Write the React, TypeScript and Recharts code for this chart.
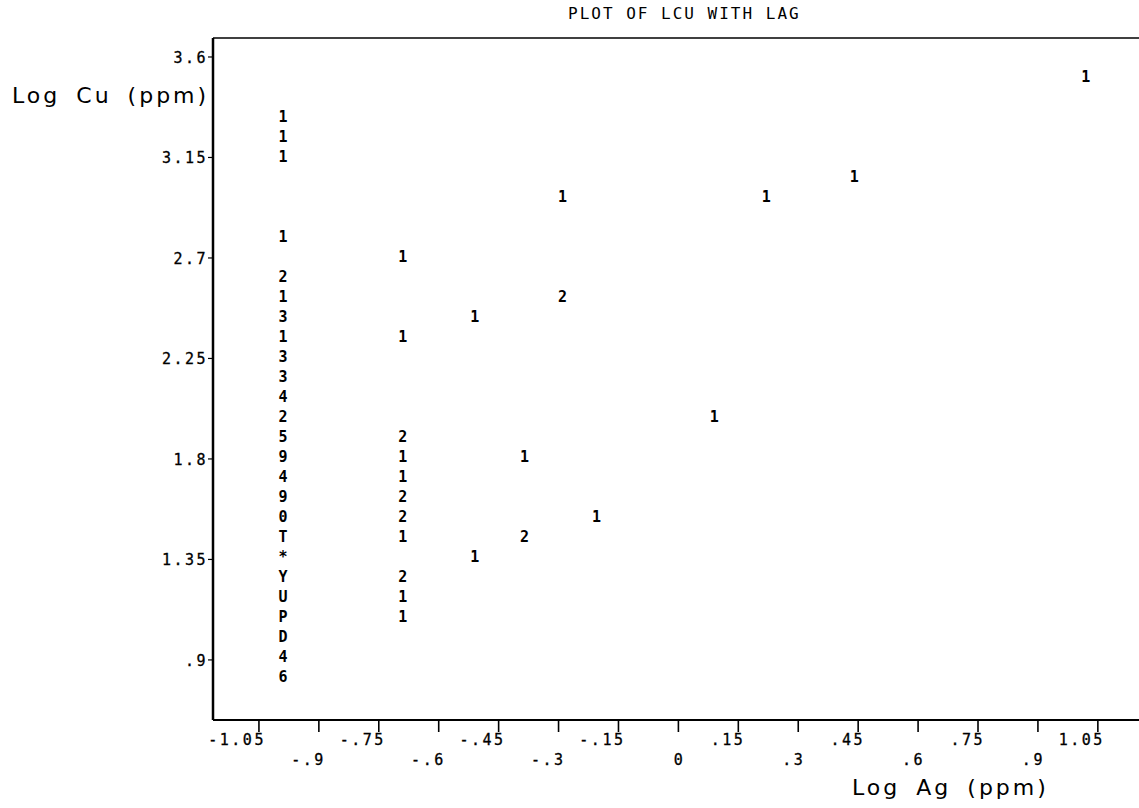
import { Scatter, ScatterChart, XAxis, YAxis } from 'recharts'

// printer-plot columns (Log Ag) and rows (Log Cu)
const pointX = [
  -0.99, -0.99, -0.99, -0.99, -0.99, -0.99, -0.99, -0.99, -0.99, -0.99, -0.99, -0.99, -0.99,
  -0.99, -0.99, -0.99, -0.99, -0.99, -0.99, -0.99, -0.99, -0.99, -0.99, -0.99, -0.99,
  -0.69, -0.69, -0.69, -0.69, -0.69, -0.69, -0.69, -0.69, -0.69, -0.69, -0.69,
  -0.51, -0.51, -0.385, -0.385, -0.29, -0.29, -0.205, 0.09, 0.22, 0.44, 1.02,
]
const pointY = [
  3.331, 3.242, 3.152, 2.794, 2.615, 2.525, 2.436, 2.346, 2.257, 2.167, 2.077, 1.988, 1.898,
  1.809, 1.719, 1.63, 1.54, 1.45, 1.361, 1.271, 1.182, 1.092, 1.003, 0.913, 0.823,
  2.704, 2.346, 1.898, 1.809, 1.719, 1.63, 1.54, 1.45, 1.271, 1.182, 1.092,
  2.436, 1.361, 1.809, 1.45, 2.973, 2.525, 1.54, 1.988, 2.973, 3.063, 3.51,
]
const pointMark = [
  '1', '1', '1', '1', '2', '1', '3', '1', '3', '3', '4', '2', '5',
  '9', '4', '9', '0', 'T', '*', 'Y', 'U', 'P', 'D', '4', '6',
  '1', '1', '2', '1', '1', '2', '2', '1', '2', '1', '1',
  '1', '1', '1', '2', '1', '2', '1', '1', '1', '1', '1',
]

const xTicks = [-1.05, -0.9, -0.75, -0.6, -0.45, -0.3, -0.15, 0, 0.15, 0.3, 0.45, 0.6, 0.75, 0.9, 1.05]
const xTickLabels = ['-1.05', '-.9', '-.75', '-.6', '-.45', '-.3', '-.15', '0', '.15', '.3', '.45', '.6', '.75', '.9', '1.05']
const yTicks = [0.9, 1.35, 1.8, 2.25, 2.7, 3.15, 3.6]
const yTickLabels = ['.9', '1.35', '1.8', '2.25', '2.7', '3.15', '3.6']

const rows = pointX.map((x, i) => ({ x, y: pointY[i], mark: pointMark[i] }))

const MONO = '"DejaVu Sans Mono", "Liberation Mono", monospace'
const SANS = '"DejaVu Sans", Verdana, sans-serif'
const INK = '#000'

function BottomTick(props: any) {
  const { x, y, index } = props
  const upper = index % 2 === 0
  return (
    <g>
      <line x1={x} y1={y} x2={x} y2={y + 12} stroke={INK} strokeWidth={1.6} />
      <text
        x={x + 7}
        y={upper ? y + 25 : y + 45}
        textAnchor="end"
        fontFamily={MONO}
        fontSize={15}
        letterSpacing={2.5}
        fill={INK}
        stroke={INK}
        strokeWidth={0.3}
      >
        {xTickLabels[index]}
      </text>
    </g>
  )
}

function TopTick(props: any) {
  const { x, y } = props
  return <line x1={x} y1={y} x2={x} y2={y - 8} stroke={INK} strokeWidth={1.5} />
}

function LeftTick(props: any) {
  const { x, y, index } = props
  return (
    <g>
      <line x1={x - 5} y1={y} x2={x} y2={y} stroke={INK} strokeWidth={1.2} />
      <text
        x={x - 5}
        y={y + 6}
        textAnchor="end"
        fontFamily={MONO}
        fontSize={15}
        letterSpacing={2.5}
        fill={INK}
        stroke={INK}
        strokeWidth={0.3}
      >
        {yTickLabels[index]}
      </text>
    </g>
  )
}

function MarkGlyph(props: any) {
  const { cx, cy, payload } = props
  return (
    <text
      x={cx}
      y={cy}
      textAnchor="middle"
      dominantBaseline="central"
      fontFamily={MONO}
      fontWeight="bold"
      fontSize={15}
      fill={INK}
    >
      {payload.mark}
    </text>
  )
}

export default function App() {
  return (
    <div style={{ position: 'absolute', left: 0, top: 0, width: 1139, height: 808, background: '#fff' }}>
      <div
        style={{
          position: 'absolute',
          left: 568,
          top: 4,
          fontFamily: MONO,
          fontSize: 16,
          letterSpacing: 2,
          color: INK,
          whiteSpace: 'nowrap',
        }}
      >
        PLOT OF LCU WITH LAG
      </div>
      <div
        style={{
          position: 'absolute',
          left: 12,
          top: 83,
          fontFamily: SANS,
          fontSize: 22,
          letterSpacing: 3,
          wordSpacing: 6,
          color: INK,
          whiteSpace: 'nowrap',
        }}
      >
        Log Cu (ppm)
      </div>
      <div
        style={{
          position: 'absolute',
          left: 852,
          top: 775,
          fontFamily: SANS,
          fontSize: 22,
          letterSpacing: 3,
          wordSpacing: 6,
          color: INK,
          whiteSpace: 'nowrap',
        }}
      >
        Log Ag (ppm)
      </div>
      <ScatterChart width={1139} height={808} margin={{ top: 28, right: 0, bottom: 58, left: 153 }}>
        <XAxis
          dataKey="x"
          type="number"
          domain={[-1.165, 1.153]}
          allowDataOverflow
          ticks={xTicks}
          interval={0}
          height={30}
          tickSize={0}
          tickMargin={0}
          tickLine={false}
          axisLine={{ stroke: INK, strokeWidth: 2 }}
          tick={<BottomTick />}
        />
        <XAxis
          xAxisId="top"
          orientation="top"
          type="number"
          domain={[-1.165, 1.153]}
          allowDataOverflow
          ticks={xTicks}
          interval={0}
          height={10}
          tickSize={0}
          tickMargin={0}
          tickLine={false}
          axisLine={{ stroke: INK, strokeWidth: 1.5 }}
          tick={<TopTick />}
        />
        <YAxis
          dataKey="y"
          type="number"
          domain={[0.631, 3.685]}
          allowDataOverflow
          ticks={yTicks}
          interval={0}
          width={60}
          tickSize={0}
          tickMargin={0}
          tickLine={false}
          axisLine={{ stroke: INK, strokeWidth: 2.5 }}
          tick={<LeftTick />}
        />
        <Scatter data={rows} shape={<MarkGlyph />} isAnimationActive={false} />
      </ScatterChart>
    </div>
  )
}
